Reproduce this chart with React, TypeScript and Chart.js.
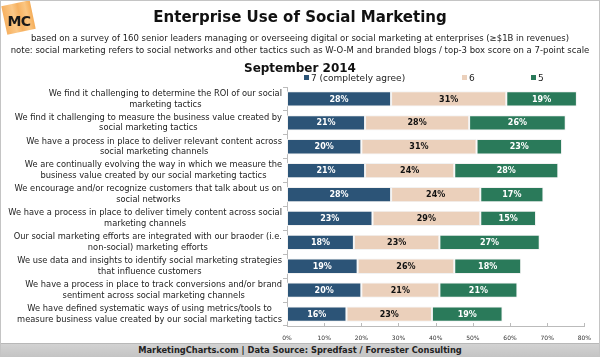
import React, { useEffect, useRef } from "react";
import { Chart, registerables } from "chart.js";

Chart.register(...registerables);

const CATEGORIES: string[][] = [
  ["We find it challenging to determine the ROI of our social", "marketing tactics"],
  ["We find it challenging to measure the business value created by", "social marketing tactics"],
  ["We have a process in place to deliver relevant content across", "social marketing channels"],
  ["We are continually evolving the way in which we measure the", "business value created by our social marketing tactics"],
  ["We encourage and/or recognize customers that talk about us on", "social networks"],
  ["We have a process in place to deliver timely content across social", "marketing channels"],
  ["Our social marketing efforts are integrated with our braoder (i.e.", "non-social) marketing efforts"],
  ["We use data and insights to identify social marketing strategies", "that influence customers"],
  ["We have a process in place to track conversions and/or brand", "sentiment across social marketing channels"],
  ["We have defined systematic ways of using metrics/tools to", "measure business value created by our social marketing tactics"],
];

const SERIES_NAMES = ["7 (completely agree)", "6", "5"];
const AGREE_7 = [28, 21, 20, 21, 28, 23, 18, 19, 20, 16];
const AGREE_6 = [31, 28, 31, 24, 24, 29, 23, 26, 21, 23];
const AGREE_5 = [19, 26, 23, 28, 17, 15, 27, 18, 21, 19];
const X_TICKS = [0, 10, 20, 30, 40, 50, 60, 70, 80];

const COLORS = ["#2c5477", "#ebd0bb", "#2a7a5a"];
const LABEL_COLORS = ["#ffffff", "#111111", "#ffffff"];
const FONT = "'DejaVu Sans', Verdana, sans-serif";

export default function App() {
  const ref = useRef<HTMLCanvasElement | null>(null);

  useEffect(() => {
    document.body.style.margin = "0";
    const canvas = ref.current;
    if (!canvas) return;

    const overlay = {
      id: "overlay",
      afterDatasetsDraw(chart: any) {
        const ctx = chart.ctx;
        ctx.save();
        ctx.textAlign = "center";
        ctx.textBaseline = "middle";
        ctx.font = `bold 8px ${FONT}`;
        chart.data.datasets.forEach((ds: any, di: number) => {
          const meta = chart.getDatasetMeta(di);
          meta.data.forEach((el: any, i: number) => {
            const v = ds.data[i];
            const x = (el.x + el.base) / 2;
            ctx.fillStyle = LABEL_COLORS[di];
            ctx.fillText(`${v}%`, x, el.y + 0.5);
          });
        });
        ctx.restore();
      },
      afterDraw(chart: any) {
        const ctx = chart.ctx;
        const ys = chart.scales.y;
        const xs = chart.scales.x;
        const area = chart.chartArea;
        ctx.save();
        // category labels: block right aligned, lines centered in block
        ctx.font = `8.3px ${FONT}`;
        ctx.fillStyle = "#222";
        ctx.textAlign = "center";
        ctx.textBaseline = "middle";
        const right = area.left - 5;
        const lineH = 10.8;
        CATEGORIES.forEach((lines, i) => {
          const y = ys.getPixelForValue(i);
          const w = Math.max(...lines.map((l) => ctx.measureText(l).width));
          const cx = right - w / 2;
          lines.forEach((l, j) => {
            ctx.fillText(l, cx, y + (j - (lines.length - 1) / 2) * lineH);
          });
        });
        // small upward ticks on x axis
        ctx.strokeStyle = "#bbb";
        ctx.lineWidth = 1;
        xs.ticks.forEach((t: any) => {
          const px = Math.round(xs.getPixelForValue(t.value)) + 0.5;
          ctx.beginPath();
          ctx.moveTo(px, area.bottom);
          ctx.lineTo(px, area.bottom - 3);
          ctx.stroke();
        });
        ctx.restore();
      },
    };

    const datasets = [AGREE_7, AGREE_6, AGREE_5].map((d, i) => ({
      label: SERIES_NAMES[i],
      data: d,
      backgroundColor: COLORS[i],
      borderColor: "#f2f2f2",
      borderWidth: 1,
      borderSkipped: false,
      barPercentage: 0.64,
      categoryPercentage: 1,
    }));

    const chart = new Chart(canvas, {
      type: "bar",
      data: { labels: CATEGORIES.map((c) => c.join(" ")), datasets },
      options: {
        indexAxis: "y",
        responsive: false,
        maintainAspectRatio: false,
        animation: false,
        layout: { padding: { top: 87, right: 11, bottom: 0, left: 0 } },
        plugins: {
          legend: { display: false },
          tooltip: { enabled: false },
          title: { display: false },
        },
        scales: {
          x: {
            stacked: true,
            min: 0,
            max: 80,
            afterBuildTicks: (s: any) => {
              s.ticks = X_TICKS.map((v) => ({ value: v }));
            },
            ticks: {
              callback: (v: any) => `${v}%`,
              font: { family: FONT, size: 6 },
              color: "#333",
              padding: 9,
              maxRotation: 0,
            },
            grid: { display: false, drawTicks: false },
            border: { display: true, color: "#bbb" },
            afterFit: (s: any) => {
              s.height = 31;
            },
          },
          y: {
            stacked: true,
            ticks: { display: false },
            grid: {
              display: true,
              drawOnChartArea: false,
              drawTicks: true,
              tickLength: 4,
              color: "#bbb",
              offset: true,
            },
            border: { display: true, color: "#bbb" },
            afterFit: (s: any) => {
              s.width = 287;
            },
          },
        },
      },
      plugins: [overlay],
    } as any);

    return () => chart.destroy();
  }, []);

  const abs = (o: React.CSSProperties): React.CSSProperties => ({ position: "absolute", ...o });

  return (
    <div
      style={{
        position: "relative",
        width: 600,
        height: 357,
        background: "#fff",
        overflow: "hidden",
        fontFamily: FONT,
        color: "#111",
      }}
    >
      <canvas ref={ref} width={600} height={357} style={abs({ left: 0, top: 0, width: 600, height: 357 })} />
      {/* logo */}
      <div
        style={abs({
          left: 4,
          top: 3,
          width: 29,
          height: 29,
          background: "linear-gradient(90deg, #f6b060 0%, #fbc887 35%, #f6b262 55%, #fbc682 80%, #f5ad58 100%)",
          transform: "rotate(-12deg)",
        })}
      />
      <div
        style={abs({
          left: 5,
          top: 13,
          width: 28,
          textAlign: "center",
          fontWeight: "bold",
          fontSize: 14,
          letterSpacing: -0.5,
          color: "#1a1a1a",
        })}
      >
        MC
      </div>
      {/* header */}
      <div style={abs({ left: 0, top: 8, width: 600, textAlign: "center", fontWeight: "bold", fontSize: 15, lineHeight: "18px" })}>
        Enterprise Use of Social Marketing
      </div>
      <div style={abs({ left: 0, top: 32, width: 600, textAlign: "center", fontSize: 8.5, lineHeight: "12px", color: "#222", whiteSpace: "nowrap" })}>
        based on a survey of 160 senior leaders managing or overseeing digital or social marketing at enterprises (≥$1B in revenues)
        <br />
        note: social marketing refers to social networks and other tactics such as W-O-M and branded blogs / top-3 box score on a 7-point scale
      </div>
      <div style={abs({ left: 0, top: 61, width: 600, textAlign: "center", fontWeight: "bold", fontSize: 12, lineHeight: "14px" })}>
        September 2014
      </div>
      {/* legend */}
      {SERIES_NAMES.map((n, i) => {
        const xs = [304, 462, 531];
        return (
          <div key={n} style={abs({ left: xs[i], top: 72, height: 11, display: "flex", alignItems: "center", fontSize: 9, color: "#222", whiteSpace: "nowrap" })}>
            <span style={{ display: "inline-block", width: 5, height: 5, background: COLORS[i], marginRight: 2 }} />
            {n}
          </div>
        );
      })}
      {/* footer */}
      <div
        style={abs({
          left: 0,
          top: 343,
          width: 600,
          height: 14,
          background: "linear-gradient(#d2d2d2, #c4c4c4)",
          borderTop: "1px solid #b8b8b8",
          boxSizing: "border-box",
          textAlign: "center",
          fontWeight: "bold",
          fontSize: 8.3,
          lineHeight: "13px",
          color: "#222",
        })}
      >
        MarketingCharts.com | Data Source: Spredfast / Forrester Consulting
      </div>
      <div style={abs({ left: 0, top: 0, width: 600, height: 357, boxSizing: "border-box", border: "1px solid #c4c4c4", pointerEvents: "none" })} />
    </div>
  );
}
